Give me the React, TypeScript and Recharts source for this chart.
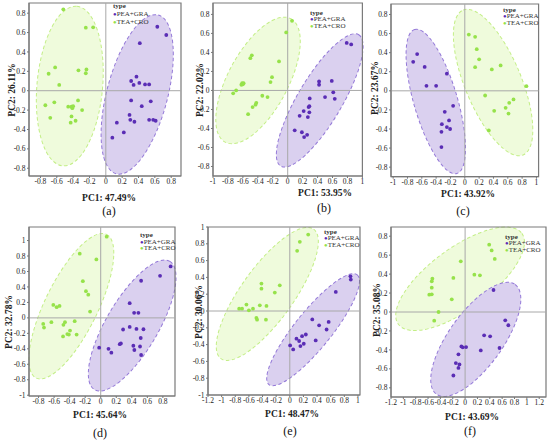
import React from 'react';
import { ScatterChart, Scatter, XAxis, YAxis, ReferenceLine, ReferenceArea } from 'recharts';

type Pt = [number, number];
type Ell = [number, number, number, number, number]; // centre x, centre y, major-axis end x, end y, minor/major ratio

const SERIES = ['PEA+GRA', 'TEA+CRO'];
const PANEL_LABELS = ['(a)', '(b)', '(c)', '(d)', '(e)', '(f)'];
const PC1_LABELS = ['PC1: 47.49%', 'PC1: 53.95%', 'PC1: 43.92%', 'PC1: 45.64%', 'PC1: 48.47%', 'PC1: 43.69%'];
const PC2_LABELS = ['PC2: 26.11%', 'PC2: 22.02%', 'PC2: 23.67%', 'PC2: 32.78%', 'PC2: 30.06%', 'PC2: 35.08%'];

const TICKS_08 = [-0.8, -0.6, -0.4, -0.2, 0, 0.2, 0.4, 0.6, 0.8];
const TICKS_1 = [-1, -0.8, -0.6, -0.4, -0.2, 0, 0.2, 0.4, 0.6, 0.8, 1];
const TICKS_12 = [-1.2, -1, -0.8, -0.6, -0.4, -0.2, 0, 0.2, 0.4, 0.6, 0.8, 1];
const TICKS_14 = [-1.2, -1, -0.8, -0.6, -0.4, -0.2, 0, 0.2, 0.4, 0.6, 0.8, 1, 1.2];

// ---- (a)
const aGra: Pt[] = [[0.63, 0.66], [0.74, 0.575], [0.416, 0.49], [0.31, 0.1], [0.375, 0.145], [0.41, 0.08], [0.48, 0.065], [0.53, 0.065], [0.34, 0.06], [0.31, -0.1], [0.44, -0.16], [0.55, -0.11], [0.29, -0.25], [0.3, -0.3], [0.35, -0.32], [0.135, -0.33], [0.22, -0.43], [0.08, -0.485], [0.53, -0.3], [0.58, -0.3], [0.61, -0.31]];
const aTea: Pt[] = [[-0.52, 0.84], [-0.245, 0.65], [-0.155, 0.654], [-0.62, 0.24], [-0.7, 0.175], [-0.335, 0.21], [-0.245, 0.18], [-0.237, 0.22], [-0.57, 0.06], [-0.63, -0.12], [-0.74, -0.15], [-0.68, -0.28], [-0.34, -0.1], [-0.29, -0.2], [-0.46, -0.165], [-0.42, -0.165], [-0.41, -0.18], [-0.4, -0.16], [-0.42, -0.265], [-0.43, -0.33], [-0.37, -0.31]];
const aGraEll: Ell = [0.384, -0.038, 0.641, 0.781, 0.37];
const aTeaEll: Ell = [-0.441, 0.048, -0.355, 0.871, 0.41];
const aX = [-0.94, 0.92];
const aY = [-0.88, 0.905];

// ---- (b)
const bGra: Pt[] = [[0.79, 0.5], [0.85, 0.484], [0.42, 0.095], [0.42, 0.06], [0.59, 0.1], [0.61, -0.02], [0.5, -0.07], [0.63, -0.088], [0.295, -0.084], [0.28, -0.175], [0.29, -0.165], [0.214, -0.217], [0.29, -0.23], [0.16, -0.267], [0.27, -0.28], [0.094, -0.42], [0.19, -0.44], [0.26, -0.467], [0.22, -0.49]];
const bTea: Pt[] = [[0.058, 0.733], [-0.02, 0.61], [-0.116, 0.305], [-0.48, 0.37], [-0.5, 0.34], [-0.21, 0.14], [-0.23, 0.088], [-0.61, 0.077], [-0.59, 0.077], [-0.62, 0.06], [-0.6, 0.065], [-0.69, 0], [-0.73, -0.03], [-0.34, -0.056], [-0.27, -0.07], [-0.42, -0.13], [-0.43, -0.15], [-0.47, -0.175], [-0.53, -0.25]];
const bGraEll: Ell = [0.429, -0.105, 0.951, 0.586, 0.29];
const bTeaEll: Ell = [-0.397, 0.105, 0.043, 0.754, 0.43];
const bX = [-1, 1];
const bY = [-0.9, 0.92];

// ---- (c)
const cGra: Pt[] = [[-0.665, 0.385], [-0.72, 0.304], [-0.56, 0.25], [-0.25, 0.18], [-0.535, 0.052], [-0.4, 0.052], [-0.163, -0.157], [-0.28, -0.22], [-0.22, -0.31], [-0.32, -0.35], [-0.25, -0.38], [-0.205, -0.4], [-0.326, -0.43], [-0.326, -0.59]];
const cTea: Pt[] = [[0.056, 0.59], [0.144, 0.566], [0.167, 0.437], [0.2, 0.33], [0.144, 0.248], [0.377, 0.224], [0.5, 0.266], [0.86, 0.049], [0.68, -0.09], [0.62, -0.126], [0.284, -0.049], [0.57, -0.178], [0.41, -0.21], [0.61, -0.238], [0.335, -0.416]];
const cGraEll: Ell = [-0.405, -0.112, -0.7, 0.643, 0.29];
const cTeaEll: Ell = [0.395, 0.087, -0.023, 0.846, 0.36];
const cX = [-1.03, 1.03];
const cY = [-0.9, 0.91];

// ---- (d)
const dGra: Pt[] = [[0.9, 0.665], [0.764, 0.544], [0.52, 0.48], [0.373, 0.19], [0.43, 0.065], [0.485, 0.065], [0.288, -0.15], [0.373, -0.117], [0.46, -0.143], [0.55, -0.147], [0.515, -0.26], [0.245, -0.34], [0.26, -0.33], [0.42, -0.36], [0.506, -0.37], [0.433, -0.415], [0.52, -0.48], [-0.02, -0.385], [0.1, -0.4], [0.137, -0.45]];
const dTea: Pt[] = [[0.077, 1.05], [-0.27, 0.83], [-0.056, 0.756], [-0.23, 0.475], [-0.19, 0.345], [-0.16, 0.3], [-0.137, 0.082], [-0.61, 0.168], [-0.567, 0.138], [-0.53, 0.155], [-0.74, -0.078], [-0.73, -0.125], [-0.635, -0.056], [-0.46, -0.056], [-0.48, -0.09], [-0.335, -0.043], [-0.395, -0.164], [-0.43, -0.21], [-0.41, -0.216], [-0.485, -0.24], [-0.31, -0.216]];
const dGraEll: Ell = [0.405, -0.099, 0.89, 0.73, 0.35];
const dTeaEll: Ell = [-0.378, 0.151, 0.075, 1.08, 0.33];
const dX = [-0.923, 0.956];
const dY = [-1.01, 1.175];

// ---- (e)
const eGra: Pt[] = [[0.89, 0.413], [0.895, 0.374], [0.675, 0.227], [0.33, -0.1], [0.43, -0.17], [0.57, -0.13], [0.54, -0.22], [0.235, -0.28], [0.18, -0.3], [0.137, -0.357], [0.098, -0.33], [0.205, -0.39], [0.156, -0.417], [0.005, -0.41], [0.05, -0.457], [0.38, -0.35]];
const eTea: Pt[] = [[0.27, 0.91], [0.147, 0.823], [0.108, 0.716], [-0.416, 0.326], [-0.416, 0.266], [-0.22, 0.219], [-0.147, 0.306], [-0.636, 0.076], [-0.44, 0.068], [-0.342, 0.06], [-0.743, 0.028], [-0.7, 0.028], [-0.6, 0.008], [-0.54, 0.028], [-0.49, -0.083], [-0.48, -0.103], [-0.35, -0.103]];
const eGraEll: Ell = [0.342, -0.223, 0.99, 0.43, 0.26];
const eTeaEll: Ell = [-0.33, 0.203, 0.35, 0.974, 0.33];
const eX = [-1.2, 1.03];
const eY = [-1, 1];

// ---- (f)
const fGra: Pt[] = [[0.46, 0.232], [0.65, -0.088], [0.7, -0.14], [0.557, -0.38], [0.308, -0.246], [0.405, -0.257], [0.254, -0.405], [-0.06, -0.363], [-0.038, -0.373], [0.016, -0.37], [-0.108, -0.447], [-0.15, -0.539], [-0.092, -0.553], [-0.108, -0.59], [-0.19, -0.67]];
const fTea: Pt[] = [[0.39, 0.711], [0.43, 0.65], [0.48, 0.56], [-0.07, 0.535], [0.15, 0.394], [0.24, 0.387], [-0.19, 0.36], [-0.53, 0.352], [-0.54, 0.324], [-0.54, 0.257], [-0.58, 0.183], [-0.54, 0.187], [-0.216, 0.134], [-0.43, 0], [-0.5, -0.092]];
const fGraEll: Ell = [0.173, -0.289, 0.81, 0.29, 0.4];
const fTeaEll: Ell = [-0.081, 0.35, 0.919, 0.83, 0.4];
const fX = [-1.2, 1.31];
const fY = [-0.897, 0.897];

const PURPLE = '#5a2db5';
const PURPLE_FILL = '#dad0ef';
const PURPLE_EDGE = '#9479d8';
const GREEN = '#96e24a';
const GREEN_FILL = '#effbdc';
const GREEN_EDGE = '#c3ee86';
const FONT = '"Liberation Serif", "Times New Roman", serif';

const fmt = (v: number) => String(Math.round(v * 10) / 10);

function ellipseShape(xd: number[], yd: number[], e: Ell, fill: string, stroke: string) {
  return (p: any) => {
    const w = Math.abs(p.width);
    const h = Math.abs(p.height);
    const x0 = Math.min(p.x, p.x + p.width);
    const y0 = Math.min(p.y, p.y + p.height);
    const sx = w / (xd[1] - xd[0]);
    const sy = h / (yd[1] - yd[0]);
    const px = (v: number) => x0 + (v - xd[0]) * sx;
    const py = (v: number) => y0 + (yd[1] - v) * sy;
    const cx = px(e[0]);
    const cy = py(e[1]);
    const ux = px(e[2]) - cx;
    const uy = py(e[3]) - cy;
    const rx = Math.hypot(ux, uy);
    const ry = rx * e[4];
    const ang = (Math.atan2(uy, ux) * 180) / Math.PI;
    return (
      <ellipse cx={cx} cy={cy} rx={rx} ry={ry} transform={`rotate(${ang} ${cx} ${cy})`}
        fill={fill} stroke={stroke} strokeWidth={1} strokeDasharray="3.5 2.5" />
    );
  };
}

const dot = (color: string) => (p: any) => <circle cx={p.cx} cy={p.cy} r={1.9} fill={color} />;

const XTick = (p: any) => (
  <text x={p.x} y={p.y + 5.3} textAnchor="middle" fontSize={7.5} fill="#222" fontFamily={FONT}>
    {fmt(p.payload.value)}
  </text>
);
const YTick = (p: any) => (
  <text x={p.x} y={p.y + 2.6} textAnchor="end" fontSize={7.5} fill="#222" fontFamily={FONT}>
    {fmt(p.payload.value)}
  </text>
);

type PanelProps = {
  idx: number;
  gra: Pt[]; tea: Pt[]; graEll: Ell; teaEll: Ell;
  xd: number[]; yd: number[]; xt: number[]; yt: number[];
  box: [number, number, number, number];
  legend: [number, number, number];
  pc1: [number, number]; pc2: [number, number]; lab: [number, number];
};

const YW = 30;
const TOP = 6;
const RIGHT = 5;
const XH = 16;

function Panel(props: PanelProps) {
  const { idx, gra, tea, graEll, teaEll, xd, yd, xt, yt, box, legend, pc1, pc2, lab } = props;
  const [bl, bt, bw, bh] = box;
  const graData = gra.map(([x, y]) => ({ x, y }));
  const teaData = tea.map(([x, y]) => ({ x, y }));
  return (
    <>
      <div style={{ position: 'absolute', left: bl - YW, top: bt - TOP }}>
        <ScatterChart width={bw + YW + RIGHT} height={bh + TOP + XH}
          margin={{ top: TOP, right: RIGHT, bottom: 0, left: 0 }}>
          <XAxis type="number" dataKey="x" domain={xd} ticks={xt} interval={0} allowDataOverflow
            tick={<XTick />} tickSize={2} tickMargin={1} height={XH}
            axisLine={{ stroke: '#777' }} tickLine={{ stroke: '#777' }} />
          <YAxis type="number" dataKey="y" domain={yd} ticks={yt} interval={0} allowDataOverflow
            tick={<YTick />} tickSize={2} tickMargin={1.5} width={YW}
            axisLine={{ stroke: '#777' }} tickLine={{ stroke: '#777' }} />
          <ReferenceArea x1={xd[0]} x2={xd[1]} y1={yd[0]} y2={yd[1]} ifOverflow="visible"
            shape={ellipseShape(xd, yd, teaEll, GREEN_FILL, GREEN_EDGE)} />
          <ReferenceArea x1={xd[0]} x2={xd[1]} y1={yd[0]} y2={yd[1]} ifOverflow="visible"
            shape={ellipseShape(xd, yd, graEll, PURPLE_FILL, PURPLE_EDGE)} />
          <ReferenceLine x={0} stroke="#a8a8a8" strokeWidth={1} />
          <ReferenceLine y={0} stroke="#a8a8a8" strokeWidth={1} />
          <Scatter name={SERIES[1]} data={teaData} isAnimationActive={false} shape={dot(GREEN)} />
          <Scatter name={SERIES[0]} data={graData} isAnimationActive={false} shape={dot(PURPLE)} />
          <ReferenceArea x1={xd[0]} x2={xd[1]} y1={yd[0]} y2={yd[1]} ifOverflow="visible"
            fill="none" fillOpacity={0} stroke="#7a7a7a" strokeWidth={1.2} />
        </ScatterChart>
      </div>
      <div style={{ position: 'absolute', left: legend[0], top: legend[1] - legend[2] / 2, fontFamily: FONT,
        fontSize: 7, lineHeight: `${legend[2]}px`, color: '#333', whiteSpace: 'nowrap' }}>
        <div style={{ fontWeight: 'bold' }}>type</div>
        <div><span style={{ color: PURPLE, fontSize: 6 }}>●</span>{SERIES[0]}</div>
        <div><span style={{ color: GREEN, fontSize: 6 }}>●</span>{SERIES[1]}</div>
      </div>
      <div style={{ position: 'absolute', left: pc1[0], top: pc1[1], transform: 'translate(-50%,-50%)',
        fontFamily: FONT, fontWeight: 'bold', fontSize: 9.5, color: '#222', whiteSpace: 'nowrap' }}>
        {PC1_LABELS[idx]}
      </div>
      <div style={{ position: 'absolute', left: pc2[0], top: pc2[1], transform: 'translate(-50%,-50%) rotate(-90deg)',
        fontFamily: FONT, fontWeight: 'bold', fontSize: 9.5, color: '#222', whiteSpace: 'nowrap' }}>
        {PC2_LABELS[idx]}
      </div>
      <div style={{ position: 'absolute', left: lab[0], top: lab[1], transform: 'translate(-50%,-50%)',
        fontFamily: FONT, fontSize: 12, color: '#111', whiteSpace: 'nowrap' }}>
        {PANEL_LABELS[idx]}
      </div>
    </>
  );
}

export default function App() {
  return (
    <div style={{ position: 'absolute', left: 0, top: 0, width: 550, height: 444, background: '#fff', overflow: 'hidden' }}>
      <Panel idx={0} gra={aGra} tea={aTea} graEll={aGraEll} teaEll={aTeaEll} xd={aX} yd={aY} xt={TICKS_08} yt={TICKS_08}
        box={[29, 3, 152, 173]} legend={[113, 5.5, 8]} pc1={[109, 198]} pc2={[11.5, 90]} lab={[109, 211]} />
      <Panel idx={1} gra={bGra} tea={bTea} graEll={bGraEll} teaEll={bTeaEll} xd={bX} yd={bY} xt={TICKS_1} yt={TICKS_08}
        box={[212.6, 3, 149.4, 173]} legend={[310, 13, 6.5]} pc1={[325, 193]} pc2={[199.5, 90]} lab={[324, 208]} />
      <Panel idx={2} gra={cGra} tea={cTea} graEll={cGraEll} teaEll={cTeaEll} xd={cX} yd={cY} xt={TICKS_1} yt={TICKS_08}
        box={[391.2, 4, 147.6, 172.7]} legend={[503, 10, 6.5]} pc1={[468, 194]} pc2={[375, 88]} lab={[463, 211]} />
      <Panel idx={3} gra={dGra} tea={dTea} graEll={dGraEll} teaEll={dTeaEll} xd={dX} yd={dY} xt={TICKS_08} yt={TICKS_1}
        box={[29, 227, 146, 169]} legend={[140, 235.5, 6.5]} pc1={[100, 415]} pc2={[9, 322]} lab={[100, 433]} />
      <Panel idx={4} gra={eGra} tea={eTea} graEll={eGraEll} teaEll={eTeaEll} xd={eX} yd={eY} xt={TICKS_12} yt={TICKS_1}
        box={[208.2, 227, 152, 168]} legend={[324, 232, 6.5]} pc1={[292, 414]} pc2={[198.5, 312]} lab={[290, 431]} />
      <Panel idx={5} gra={fGra} tea={fTea} graEll={fGraEll} teaEll={fTeaEll} xd={fX} yd={fY} xt={TICKS_14} yt={TICKS_08}
        box={[391, 227, 155, 170]} legend={[505, 237, 6.5]} pc1={[472, 417]} pc2={[377, 310]} lab={[470, 431]} />
    </div>
  );
}
